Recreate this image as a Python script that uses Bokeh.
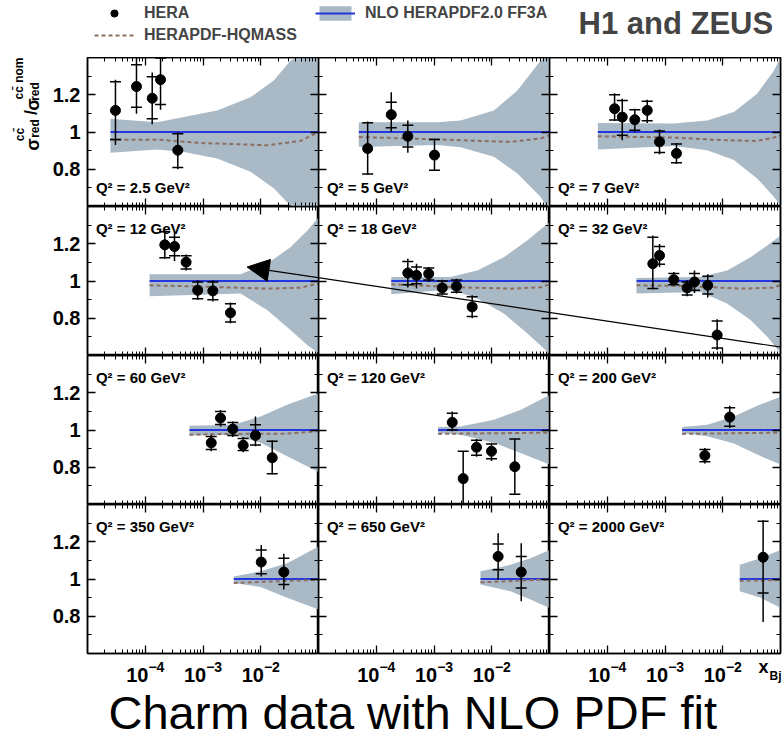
from bokeh.plotting import figure
from bokeh.layouts import column, gridplot
from bokeh.models import (Range1d, FixedTicker, LogAxis, LinearAxis, LogTickFormatter,
                          NumeralTickFormatter, Label, Legend, LegendItem, Arrow, NormalHead)
from bokeh.embed import file_html
from bokeh.resources import INLINE

# ---------------------------------------------------------------- data
Q2_LABELS = ["Q² = 2.5 GeV²", "Q² = 5 GeV²", "Q² = 7 GeV²",
             "Q² = 12 GeV²", "Q² = 18 GeV²", "Q² = 32 GeV²",
             "Q² = 60 GeV²", "Q² = 120 GeV²", "Q² = 200 GeV²",
             "Q² = 350 GeV²", "Q² = 650 GeV²", "Q² = 2000 GeV²"]

# HERA charm data points (x_Bj, ratio to nominal fit)
PT_X = [
    [3.05e-5, 7.05e-5, 1.32e-4, 1.84e-4, 3.66e-4],
    [7.1e-5, 1.82e-4, 3.52e-4, 1.02e-3],
    [1.34e-4, 1.82e-4, 3.0e-4, 4.92e-4, 8.04e-4, 1.58e-3],
    [2.18e-4, 3.21e-4, 5.1e-4, 8.1e-4, 1.48e-3, 2.99e-3],
    [3.52e-4, 4.98e-4, 8.1e-4, 1.39e-3, 2.45e-3, 4.58e-3],
    [6.15e-4, 8.04e-4, 1.42e-3, 2.42e-3, 3.24e-3, 5.5e-3, 8.0e-3],
    [1.39e-3, 2.01e-3, 3.28e-3, 4.96e-3, 8.1e-3, 1.58e-2],
    [2.07e-3, 3.2e-3, 5.45e-3, 9.9e-3, 2.51e-2],
    [4.9e-3, 1.32e-2],
    [1.02e-2, 2.51e-2],
    [1.29e-2, 3.24e-2],
    [5.0e-2],
]
PT_Y = [
    [1.116, 1.244, 1.181, 1.281, 0.902],
    [0.911, 1.093, 0.977, 0.876],
    [1.125, 1.080, 1.066, 1.116, 0.947, 0.885],
    [1.194, 1.185, 1.101, 0.950, 0.947, 0.829],
    [1.043, 1.030, 1.039, 0.963, 0.972, 0.861],
    [1.093, 1.137, 1.007, 0.963, 0.995, 0.977, 0.710],
    [0.931, 1.064, 1.005, 0.918, 0.971, 0.851],
    [1.041, 0.739, 0.907, 0.886, 0.803],
    [0.863, 1.069],
    [1.091, 1.037],
    [1.121, 1.037],
    [1.117],
]
PT_TOT_HI = [
    [1.28, 1.41, 1.32, 1.41, 1.00],
    [1.057, 1.213, 1.062, 0.965],
    [1.208, 1.178, 1.125, 1.173, 1.013, 0.941],
    [1.270, 1.261, 1.142, 1.004, 1.004, 0.885],
    [1.119, 1.093, 1.075, 1.007, 1.012, 0.924],
    [1.244, 1.199, 1.048, 1.004, 1.057, 1.036, 0.794],
    [0.975, 1.108, 1.046, 0.963, 1.073, 0.945],
    [1.099, 0.886, 0.952, 0.931, 0.952],
    [0.904, 1.130],
    [1.183, 1.135],
    [1.245, 1.192],
    [1.316],
]
PT_TOT_LO = [
    [0.93, 1.098, 1.041, 1.119, 0.80],
    [0.769, 1.000, 0.888, 0.792],
    [1.059, 0.956, 1.000, 1.048, 0.881, 0.828],
    [1.119, 1.107, 1.057, 0.900, 0.890, 0.773],
    [0.965, 0.960, 0.995, 0.924, 0.933, 0.800],
    [0.954, 1.075, 0.977, 0.918, 0.936, 0.911, 0.630],
    [0.886, 1.019, 0.963, 0.881, 0.913, 0.762],
    [0.993, 0.590, 0.856, 0.833, 0.655],
    [0.820, 1.011],
    [1.014, 0.943],
    [0.996, 0.881],
    [0.769],
]
PT_STAT_HI = [
    [1.27, 1.361, 1.297, 1.397, 0.99],
    [1.050, 1.160, 1.036, 0.960],
    [1.200, 1.169, 1.120, 1.165, 1.005, 0.935],
    [1.265, 1.235, 1.135, 0.995, 0.995, 0.878],
    [1.105, 1.075, 1.070, 1.000, 1.005, 0.915],
    [1.235, 1.185, 1.040, 0.995, 1.040, 1.025, 0.785],
    [0.965, 1.100, 1.040, 0.955, 1.028, 0.940],
    [1.090, 0.886, 0.945, 0.925, 0.952],
    [0.895, 1.120],
    [1.156, 1.112],
    [1.188, 1.121],
    [1.310],
]
PT_STAT_LO = [
    [0.96, 1.133, 1.071, 1.148, 0.81],
    [0.775, 1.023, 0.920, 0.795],
    [1.065, 0.982, 1.010, 1.060, 0.890, 0.835],
    [1.125, 1.135, 1.065, 0.905, 0.900, 0.780],
    [0.980, 0.985, 1.005, 0.930, 0.940, 0.810],
    [0.960, 1.090, 0.980, 0.925, 0.950, 0.930, 0.640],
    [0.895, 1.030, 0.970, 0.890, 0.920, 0.765],
    [1.000, 0.600, 0.865, 0.845, 0.655],
    [0.830, 1.020],
    [1.028, 0.970],
    [1.050, 0.952],
    [0.925],
]

# NLO HERAPDF2.0 FF3A uncertainty band (relative to nominal)
BAND_X = [
    [2.5e-5, 1.61e-4, 4.66e-4, 1.76e-3, 6.65e-3, 1.68e-2, 3.27e-2, 4.28e-2, 1e-1],
    [4.99e-5, 1.135e-3, 2.88e-3, 1.09e-2, 2.75e-2, 6.98e-2, 8.53e-2, 1e-1],
    [6.87e-5, 1.42e-3, 5.38e-3, 1.56e-2, 3.94e-2, 7.66e-2, 1e-1],
    [1.19e-4, 4.46e-3, 1.29e-2, 3.27e-2, 6.37e-2, 1e-1],
    [1.82e-4, 1.93e-3, 5.6e-3, 1.62e-2, 4.1e-2, 9.12e-2, 1e-1],
    [3.21e-4, 4.12e-3, 1.19e-2, 3.03e-2, 5.89e-2, 1e-1],
    [5.83e-4, 3.41e-3, 9.91e-3, 2.87e-2, 1e-1],
    [1.18e-3, 2.88e-3, 1.09e-2, 3.15e-2, 1e-1],
    [1.98e-3, 5.38e-3, 1.56e-2, 3.94e-2, 1e-1],
    [3.41e-3, 9.91e-3, 2.87e-2, 1e-1],
    [6.38e-3, 2.11e-2, 4.69e-2, 1e-1],
    [1.97e-2, 4.51e-2, 1e-1],
]
BAND_HI = [
    [1.071, 1.053, 1.080, 1.116, 1.187, 1.276, 1.382, 1.40, 1.40],
    [1.053, 1.053, 1.062, 1.116, 1.222, 1.382, 1.40, 1.40],
    [1.048, 1.045, 1.062, 1.107, 1.205, 1.329, 1.40],
    [1.036, 1.036, 1.093, 1.181, 1.270, 1.341],
    [1.021, 1.021, 1.057, 1.128, 1.217, 1.306, 1.315],
    [1.016, 1.021, 1.057, 1.128, 1.190, 1.244],
    [1.023, 1.028, 1.073, 1.135, 1.197],
    [1.016, 1.019, 1.055, 1.108, 1.188],
    [1.016, 1.028, 1.073, 1.130, 1.179],
    [1.014, 1.041, 1.085, 1.174],
    [1.041, 1.076, 1.112, 1.156],
    [1.076, 1.112, 1.156],
]
BAND_LO = [
    [0.888, 0.906, 0.893, 0.858, 0.787, 0.698, 0.604, 0.60, 0.60],
    [0.920, 0.930, 0.918, 0.867, 0.778, 0.653, 0.610, 0.60],
    [0.906, 0.925, 0.902, 0.849, 0.751, 0.653, 0.604],
    [0.918, 0.933, 0.844, 0.737, 0.657, 0.613],
    [0.929, 0.954, 0.906, 0.826, 0.719, 0.621, 0.610],
    [0.933, 0.941, 0.879, 0.790, 0.701, 0.613],
    [0.970, 0.975, 0.931, 0.859, 0.774],
    [0.984, 0.975, 0.931, 0.877, 0.815],
    [0.984, 0.966, 0.927, 0.868, 0.815],
    [0.979, 0.957, 0.899, 0.836],
    [0.970, 0.934, 0.890, 0.845],
    [0.934, 0.899, 0.845],
]
NOMINAL = 1.0

# HERAPDF-HQMASS prediction (relative to nominal)
HQ_X = [
    [2.5e-5, 1.61e-4, 9.06e-4, 1.29e-2, 4.88e-2, 1e-1],
    [4.99e-5, 3.92e-4, 2.88e-3, 2.11e-2, 6.98e-2, 1e-1],
    [6.87e-5, 1.42e-3, 1.04e-2, 3.94e-2, 7.66e-2, 1e-1],
    [1.19e-4, 9.06e-4, 1.29e-2, 4.88e-2, 1e-1],
    [1.82e-4, 2.88e-3, 2.11e-2, 6.98e-2, 1e-1],
    [3.21e-4, 2.77e-3, 2.03e-2, 7.66e-2, 1e-1],
    [5.83e-4, 3.41e-3, 2.51e-2, 1e-1],
    [1.18e-3, 1e-1],
    [1.98e-3, 1e-1],
    [3.41e-3, 1e-1],
    [6.38e-3, 1e-1],
    [1.97e-2, 1e-1],
]
HQ_Y = [
    [0.959, 0.959, 0.941, 0.929, 0.952, 1.000],
    [0.973, 0.965, 0.956, 0.947, 0.965, 0.982],
    [0.977, 0.970, 0.956, 0.952, 0.970, 0.982],
    [0.977, 0.970, 0.959, 0.964, 0.986],
    [0.982, 0.966, 0.959, 0.966, 0.982],
    [0.977, 0.972, 0.959, 0.964, 0.980],
    [0.975, 0.979, 0.980, 0.993],
    [0.979, 0.986],
    [0.979, 0.986],
    [0.979, 0.996],
    [0.982, 0.998],
    [0.990, 0.995],
]

# axes
X_RANGE = (1e-5, 1e-1)
Y_RANGE = (0.6, 1.4)
X_TICKS = [1e-4, 1e-3, 1e-2]
X_MINOR = [m * 10.0 ** e for e in range(-5, -1) for m in range(2, 10)]
Y_TICKS = [0.8, 1.0, 1.2]
Y_MINOR = [0.7, 0.9, 1.1, 1.3]

# ---------------------------------------------------------------- style
FONT = "Liberation Sans"
BAND_COLOR = "#a9b9c6"
BLUE = "#2436e0"
BROWN = "#8c6e60"
FRAME_W, FRAME_H = 231, 149
LEFT_B, RIGHT_B, BOTTOM_B = 87, 3, 35
PAGE_W, PAGE_H = 783, 740
HEADER_H = 57
GRID_H = 4 * FRAME_H + BOTTOM_B
NAN = float("nan")

# arrow drawn on the slide (in units of the first-column panels of row 2)
ARROW_TIP = (5.8e-3, 1.075)
ARROW_TAIL = (1.13e7, 0.643)
COLUMN_SHIFT = 1e-4   # four decades per panel column


def style_axis(ax, ticker, formatter, labelled, standoff):
    ax.ticker = ticker
    ax.formatter = formatter
    ax.axis_line_color = "black"
    ax.axis_line_width = 1.5
    ax.major_tick_line_color = "black"
    ax.major_tick_line_width = 1.3
    ax.minor_tick_line_color = "black"
    ax.minor_tick_line_width = 1.0
    ax.major_tick_in = 8
    ax.major_tick_out = 0
    ax.minor_tick_in = 4
    ax.minor_tick_out = 0
    ax.axis_label = None
    if labelled:
        ax.major_label_text_font = FONT
        ax.major_label_text_font_style = "bold"
        ax.major_label_text_font_size = "20px"
        ax.major_label_text_color = "black"
        ax.major_label_standoff = standoff
    else:
        ax.major_label_text_color = None
        ax.major_label_text_font_size = "0px"
        ax.major_label_standoff = 0


rows = []
for r in range(4):
    row = []
    for c in range(3):
        i = r * 3 + c
        w = FRAME_W + (LEFT_B if c == 0 else 0) + (RIGHT_B if c == 2 else 0)
        h = FRAME_H + (BOTTOM_B if r == 3 else 0)
        p = figure(width=w, height=h, x_axis_type="log",
                   x_range=Range1d(*X_RANGE), y_range=Range1d(*Y_RANGE),
                   output_backend="svg", toolbar_location=None,
                   min_border_left=LEFT_B if c == 0 else 0,
                   min_border_right=RIGHT_B if c == 2 else 0,
                   min_border_top=0,
                   min_border_bottom=BOTTOM_B if r == 3 else 0)
        p.xgrid.visible = False
        p.ygrid.visible = False
        p.outline_line_color = "black"
        p.outline_line_width = 1.5
        p.background_fill_color = "white"
        p.border_fill_color = "white"
        p.add_layout(LogAxis(), "above")
        p.add_layout(LinearAxis(), "right")

        style_axis(p.below[0], FixedTicker(ticks=X_TICKS, minor_ticks=X_MINOR),
                   LogTickFormatter(), r == 3, 7)
        style_axis(p.above[0], FixedTicker(ticks=X_TICKS, minor_ticks=X_MINOR),
                   LogTickFormatter(), False, 0)
        style_axis(p.left[0], FixedTicker(ticks=Y_TICKS, minor_ticks=Y_MINOR),
                   NumeralTickFormatter(format="0.[0]"), c == 0, 7)
        style_axis(p.right[0], FixedTicker(ticks=Y_TICKS, minor_ticks=Y_MINOR),
                   NumeralTickFormatter(format="0.[0]"), False, 0)

        # fit band + nominal
        p.varea(x=BAND_X[i], y1=BAND_LO[i], y2=BAND_HI[i],
                fill_color=BAND_COLOR, fill_alpha=1.0)
        p.line(x=[BAND_X[i][0], BAND_X[i][-1]], y=[NOMINAL, NOMINAL],
               line_color=BLUE, line_width=2.2)
        p.line(x=HQ_X[i], y=HQ_Y[i], line_color=BROWN, line_width=2,
               line_dash="4 3")

        # data
        p.segment(x0=PT_X[i], y0=PT_TOT_LO[i], x1=PT_X[i], y1=PT_TOT_HI[i],
                  line_color="black", line_width=1.5)
        p.scatter(x=PT_X[i], y=PT_STAT_HI[i], marker="dash", size=11,
                  line_color="black", line_width=1.5)
        p.scatter(x=PT_X[i], y=PT_STAT_LO[i], marker="dash", size=11,
                  line_color="black", line_width=1.5)
        p.scatter(x=PT_X[i], y=PT_Y[i], marker="circle", size=10,
                  fill_color="black", line_color="black")

        p.add_layout(Label(x=1.4e-5, y=0.70 if r == 0 else 1.28,
                           text=Q2_LABELS[i], text_font=FONT,
                           text_font_style="bold", text_font_size="15px",
                           text_baseline="middle", text_color="black"))

        if r == 1:
            shift = COLUMN_SHIFT ** c
            if c == 0:
                p.add_layout(Arrow(x_start=ARROW_TAIL[0], y_start=ARROW_TAIL[1],
                                   x_end=ARROW_TIP[0], y_end=ARROW_TIP[1],
                                   line_color="black", line_width=1.2,
                                   end=NormalHead(size=22, fill_color="black",
                                                  line_color="black")))
            else:
                p.segment(x0=[ARROW_TIP[0] * shift], y0=[ARROW_TIP[1]],
                          x1=[ARROW_TAIL[0] * shift], y1=[ARROW_TAIL[1]],
                          line_color="black", line_width=1.2)
        row.append(p)
    rows.append(row)

grid = gridplot(rows, toolbar_location=None)

# ---------------------------------------------------------------- header
hdr = figure(width=PAGE_W, height=HEADER_H, x_range=Range1d(0, PAGE_W),
             y_range=Range1d(HEADER_H, 0), output_backend="svg",
             toolbar_location=None, x_axis_location=None, y_axis_location=None,
             min_border=0)
hdr.grid.visible = False
hdr.outline_line_color = None
r_hera = hdr.scatter(x=[NAN], y=[NAN], marker="circle", size=9, color="black")
r_hq = hdr.line(x=[NAN], y=[NAN], line_color=BROWN, line_width=2, line_dash="4 3")
r_band = hdr.varea(x=[NAN], y1=[NAN], y2=[NAN], fill_color=BAND_COLOR)
r_blue = hdr.line(x=[NAN], y=[NAN], line_color=BLUE, line_width=2)
legend = Legend(items=[LegendItem(label="HERA", renderers=[r_hera]),
                       LegendItem(label="HERAPDF-HQMASS", renderers=[r_hq]),
                       LegendItem(label="NLO HERAPDF2.0 FF3A", renderers=[r_band, r_blue])],
                location=(94, 13), orientation="vertical", nrows=2,
                glyph_width=40, glyph_height=18, label_height=18,
                label_width=167, label_standoff=10, spacing=4, padding=0,
                margin=0, border_line_color=None, background_fill_alpha=0,
                label_text_font=FONT, label_text_font_style="bold",
                label_text_font_size="16px")
hdr.add_layout(legend)
hdr.add_layout(Label(x=578, y=23, text="H1 and ZEUS", text_font=FONT,
                     text_font_style="bold", text_font_size="31px",
                     text_baseline="middle"))

# ------------------------------------------- transparent overlay for texts
# (y-axis title, x_Bj and slide title); it lies over the panel grid
OV_H = PAGE_H - HEADER_H
ov = figure(width=PAGE_W, height=OV_H, x_range=Range1d(0, PAGE_W),
            y_range=Range1d(OV_H, 0), output_backend="svg",
            toolbar_location=None, x_axis_location=None, y_axis_location=None,
            min_border=0, margin=(-GRID_H, 0, 0, 0))
ov.grid.visible = False
ov.outline_line_color = None
ov.background_fill_alpha = 0
ov.border_fill_alpha = 0


def ov_label(text, x, y, size, angle=0, bold=True, align="center"):
    ov.add_layout(Label(x=x, y=y, text=text, angle=angle, angle_units="deg",
                        text_font=FONT, text_font_style="bold" if bold else "normal",
                        text_font_size=f"{size}px", text_align=align,
                        text_baseline="middle", text_color="black"))


# y-axis title: sigma_red^{cc} / sigma_red^{cc nom}
for txt, x, y, fs in [("σ", 32, 87, 18), ("cc̄", 19, 77, 12), ("red", 34, 71, 12),
                      ("/", 30, 55, 18), ("σ", 32, 47, 18), ("cc̄ nom", 18, 21, 12),
                      ("red", 34, 34, 12)]:
    ov_label(txt, x, y, fs, angle=90)
ov_label("x", 763, 609, 18)
ov_label("Bj", 775, 618, 12)
ov_label("Charm data with NLO PDF fit", 108, 655, 47, bold=False, align="left")

page = column(hdr, grid, ov)
open("out.html", "w").write(file_html(page, INLINE))
